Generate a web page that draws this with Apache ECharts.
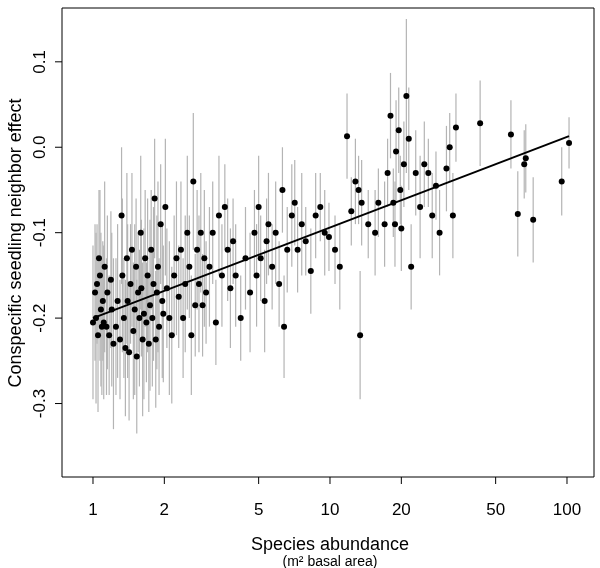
<!DOCTYPE html>
<html><head><meta charset="utf-8">
<script src="https://cdn.jsdelivr.net/npm/echarts@6/dist/echarts.min.js"></script>
<style>html,body{margin:0;background:#fff}#c{width:600px;height:568px}</style>
</head><body><div id="c"></div>
<script>
const abundance = [1.00,1.02,1.03,1.04,1.05,1.06,1.07,1.08,1.09,1.10,1.11,1.12,1.14,1.15,1.17,1.19,1.20,1.22,1.25,1.27,1.30,
1.32,1.33,1.35,1.37,1.39,1.40,1.42,1.44,1.46,1.48,1.50,1.52,1.53,1.55,1.57,1.59,
1.60,1.62,1.64,1.66,1.68,1.70,1.72,1.74,1.76,1.78,1.80,1.82,1.84,1.86,1.88,1.90,1.93,1.96,1.98,
2.02,2.05,2.1,2.15,2.2,2.25,2.3,2.35,2.4,2.45,2.5,2.55,2.6,2.65,2.7,2.75,2.8,2.85,2.9,2.95,
3.0,3.1,3.2,3.3,3.4,3.5,3.6,3.7,3.8,3.9,4.0,4.2,4.4,4.6,4.8,4.9,
5.0,5.1,5.3,5.4,5.5,5.7,5.9,6.1,6.3,6.4,6.6,6.9,7.1,7.3,7.6,7.9,8.3,8.7,9.1,9.5,9.9,
10.5,11,11.8,12.3,12.8,13.2,13.4,13.6,14.5,15.5,16,17,17.5,18,18.5,18.8,19,19.5,19.8,20,
20.5,21,21.5,22,23,24,25,26,27,28,29,31,32,33,34,
43,58,62,66,67,72,95,102];
const effect = [-0.205,-0.17,-0.20,-0.16,-0.22,-0.13,-0.15,-0.19,-0.21,-0.18,-0.205,-0.14,-0.21,-0.17,-0.22,-0.155,-0.19,-0.23,-0.21,-0.18,-0.225,
-0.08,-0.15,-0.20,-0.235,-0.13,-0.18,-0.24,-0.16,-0.12,-0.215,-0.19,-0.14,-0.245,-0.17,-0.2,-0.1,
-0.165,-0.225,-0.195,-0.13,-0.205,-0.15,-0.23,-0.185,-0.12,-0.2,-0.16,-0.06,-0.225,-0.17,-0.14,-0.21,-0.09,-0.18,-0.195,
-0.07,-0.165,-0.2,-0.22,-0.15,-0.13,-0.175,-0.12,-0.2,-0.16,-0.1,-0.14,-0.22,-0.04,-0.185,-0.12,-0.16,-0.1,-0.185,-0.13,
-0.17,-0.14,-0.1,-0.205,-0.08,-0.15,-0.07,-0.12,-0.165,-0.11,-0.15,-0.2,-0.13,-0.17,-0.1,-0.15,
-0.07,-0.13,-0.18,-0.11,-0.09,-0.14,-0.1,-0.16,-0.05,-0.21,-0.12,-0.08,-0.065,-0.12,-0.09,-0.11,-0.145,-0.08,-0.07,-0.1,-0.105,
-0.12,-0.14,0.013,-0.075,-0.04,-0.05,-0.22,-0.065,-0.09,-0.1,-0.065,-0.09,-0.03,0.037,-0.065,-0.09,-0.005,0.02,-0.05,-0.095,
-0.02,0.06,0.01,-0.14,-0.03,-0.07,-0.02,-0.03,-0.08,-0.045,-0.1,-0.025,0.0,-0.08,0.023,
0.028,0.015,-0.078,-0.02,-0.013,-0.085,-0.04,0.005];
const halfWidth = [0.09,0.08,0.10,0.07,0.09,0.08,0.10,0.09,0.08,0.07,0.09,0.10,0.08,0.09,0.07,0.08,0.09,0.10,0.08,0.09,0.07,
0.08,0.09,0.07,0.08,0.10,0.09,0.08,0.07,0.09,0.08,0.10,0.08,0.09,0.07,0.08,0.09,
0.08,0.09,0.10,0.08,0.07,0.09,0.08,0.10,0.07,0.08,0.09,0.07,0.08,0.09,0.10,0.08,0.07,0.09,0.08,
0.08,0.07,0.09,0.08,0.07,0.09,0.06,0.08,0.07,0.08,0.09,0.06,0.07,0.08,0.06,0.07,0.08,0.07,0.06,0.08,
0.06,0.07,0.06,0.05,0.07,0.06,0.05,0.06,0.07,0.05,0.06,0.05,0.06,0.07,0.05,0.06,
0.06,0.05,0.06,0.05,0.06,0.05,0.06,0.05,0.05,0.06,0.05,0.06,0.05,0.05,0.06,0.04,0.05,0.05,0.04,0.05,0.04,
0.04,0.05,0.05,0.04,0.05,0.04,0.075,0.05,0.04,0.05,0.04,0.05,0.04,0.05,0.04,0.05,0.06,0.05,0.04,0.05,
0.05,0.09,0.06,0.05,0.05,0.06,0.05,0.04,0.05,0.04,0.05,0.05,0.04,0.05,0.04,
0.05,0.04,0.05,0.04,0.04,0.05,0.04,0.03];
const xTicks = [1,2,5,10,20,50,100];
const yTicks = [-0.3,-0.2,-0.1,0.0,0.1];
const fitLine = [[1,-0.200],[102,0.013]];
const X0 = 0.74, X1 = 130, Y0 = -0.386, Y1 = 0.163;

const pts = abundance.map((a,i)=>[a,effect[i]]);
const bars = abundance.map((a,i)=>[a,effect[i]-halfWidth[i],effect[i]+halfWidth[i]]);
const font = 'Arial, "Liberation Sans", sans-serif';
const chart = echarts.init(document.getElementById('c'));
chart.setOption({
  animation:false,
  grid:{left:62,right:6,top:8,bottom:91,show:true,borderColor:'#000',borderWidth:1,backgroundColor:'transparent'},
  xAxis:{type:'log',logBase:10,min:X0,max:X1,axisLine:{show:false},axisTick:{show:false},axisLabel:{show:false},splitLine:{show:false}},
  yAxis:{type:'value',min:Y0,max:Y1,axisLine:{show:false},axisTick:{show:false},axisLabel:{show:false},splitLine:{show:false}},
  series:[
    {type:'custom',data:bars,clip:true,z:1,renderItem:(p,api)=>{
      const a=api.coord([api.value(0),api.value(1)]), b=api.coord([api.value(0),api.value(2)]);
      return {type:'line',shape:{x1:a[0],y1:a[1],x2:b[0],y2:b[1]},style:{stroke:'#b4b4b4',lineWidth:1.2}};
    }},
    {type:'scatter',data:pts,symbolSize:6,itemStyle:{color:'#000',opacity:1},z:3},
    {type:'line',data:fitLine,symbol:'none',lineStyle:{color:'#000',width:2},z:4},
    {type:'custom',data:xTicks.map(v=>[v]),z:5,renderItem:(p,api)=>{
      const c=api.coord([api.value(0),Y0]);
      return {type:'group',children:[
        {type:'line',shape:{x1:c[0],y1:c[1],x2:c[0],y2:c[1]+7},style:{stroke:'#000',lineWidth:1}},
        {type:'text',x:c[0],y:c[1]+33,style:{text:String(api.value(0)),font:'17px '+font,textAlign:'center',textVerticalAlign:'middle',fill:'#000'}}
      ]};
    }},
    {type:'custom',data:yTicks.map(v=>[X0,v]),z:5,renderItem:(p,api)=>{
      const v=api.value(1), c=api.coord([X0,v]);
      return {type:'group',children:[
        {type:'line',shape:{x1:c[0],y1:c[1],x2:c[0]-7,y2:c[1]},style:{stroke:'#000',lineWidth:1}},
        {type:'text',x:c[0]-22,y:c[1],rotation:Math.PI/2,style:{text:v.toFixed(1),font:'17px '+font,textAlign:'center',textVerticalAlign:'middle',fill:'#000'}}
      ]};
    }}
  ],
  graphic:[
    {type:'text',x:330,y:545,style:{text:'Species abundance',font:'18px '+font,textAlign:'center',textVerticalAlign:'middle',fill:'#000'}},
    {type:'text',x:330,y:562,style:{text:'(m² basal area)',font:'14px '+font,textAlign:'center',textVerticalAlign:'middle',fill:'#000'}},
    {type:'text',x:16,y:243,rotation:Math.PI/2,style:{text:'Conspecific seedling neighbor effect',font:'18px '+font,textAlign:'center',textVerticalAlign:'middle',fill:'#000'}}
  ]
});
</script></body></html>
